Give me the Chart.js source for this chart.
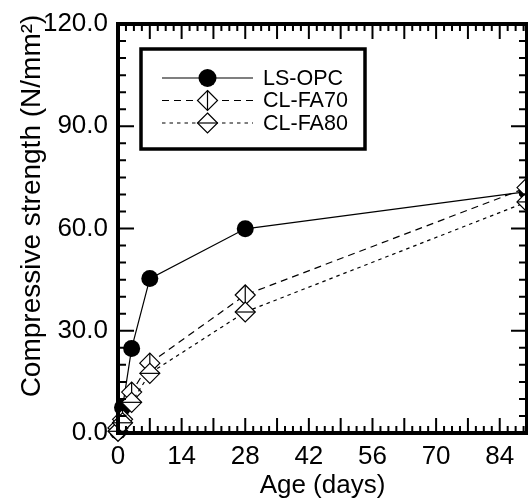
<!DOCTYPE html>
<html>
<head>
<meta charset="utf-8">
<script src="https://cdn.jsdelivr.net/npm/chart.js@4"></script>
<style>
  html, body { margin: 0; padding: 0; background: #fff; }
  #c { display: block; }
</style>
</head>
<body>
<canvas id="c" width="528" height="501"></canvas>
<script>
// ---- data ----
const days   = [0, 1, 3, 7, 28, 90];
const lsOpc  = [0.5, 7.5, 24.8, 45.3, 59.9, 70.8];
const clFa70 = [1.5, 4.0, 12.0, 20.5, 40.5, 72.0];
const clFa80 = [0.5, 3.0, 9.0, 17.5, 35.5, 67.8];
const seriesLabels = ['LS-OPC', 'CL-FA70', 'CL-FA80'];
const xTickLabels = [0, 14, 28, 42, 56, 70, 84];
const yTickLabels = [0, 30, 60, 90, 120];
const xTitle = 'Age (days)';
const yTitle = 'Compressive strength (N/mm\u00B2)';

const FONT = "'Liberation Sans', Arial, sans-serif";
const innerLine = ['none', 'v', 'h'];

const toPts = arr => arr.map((v, i) => ({ x: days[i], y: v }));

function drawInner(ctx, kind, x, y, r) {
  ctx.beginPath();
  if (kind === 'v') { ctx.moveTo(x, y - r); ctx.lineTo(x, y + r); }
  else if (kind === 'h') { ctx.moveTo(x - r, y); ctx.lineTo(x + r, y); }
  ctx.stroke();
}

const markPlugin = {
  id: 'marks',
  afterDatasetDraw(chart, args) {
    const i = args.index;
    const kind = innerLine[i];
    if (kind === 'none') return;
    const { ctx } = chart;
    ctx.save();
    ctx.strokeStyle = '#000';
    ctx.lineWidth = 1.2;
    args.meta.data.forEach(pt => drawInner(ctx, kind, pt.x, pt.y, 10));
    ctx.restore();
  }
};

const framePlugin = {
  id: 'frame',
  afterDraw(chart) {
    const { ctx, chartArea: a, scales: { x, y } } = chart;
    ctx.save();
    ctx.strokeStyle = '#000';
    ctx.lineWidth = 2;
    ctx.beginPath();
    for (let k = 0; k * 1.75 <= 90.01; k++) {
      const v = k * 1.75, px = x.getPixelForValue(v);
      const len = (k % 4 === 0) ? 15 : 7;
      ctx.moveTo(px, a.bottom); ctx.lineTo(px, a.bottom - len);
      ctx.moveTo(px, a.top); ctx.lineTo(px, a.top + len);
    }
    for (let v = 0; v <= 120; v += 5) {
      const py = y.getPixelForValue(v);
      const len = (v % 30 === 0) ? 16 : 8;
      ctx.moveTo(a.left, py); ctx.lineTo(a.left + len, py);
      ctx.moveTo(a.right, py); ctx.lineTo(a.right - len, py);
    }
    ctx.stroke();
    ctx.lineWidth = 4;
    ctx.strokeRect(a.left, a.top, a.right - a.left, a.bottom - a.top);
    // y title
    ctx.fillStyle = '#000';
    ctx.font = '28px ' + FONT;
    ctx.textAlign = 'center';
    ctx.textBaseline = 'middle';
    ctx.translate(32, 206);
    ctx.rotate(-Math.PI / 2);
    ctx.fillText(yTitle, 0, 0);
    ctx.restore();

    // legend
    ctx.save();
    ctx.lineWidth = 3.5;
    ctx.strokeStyle = '#000';
    ctx.strokeRect(141, 49, 224, 100);
    const rows = [78, 100.5, 123];
    chart.data.datasets.forEach((ds, i) => {
      const ry = rows[i];
      ctx.beginPath();
      ctx.lineWidth = ds.borderWidth;
      ctx.setLineDash(ds.borderDash || []);
      ctx.moveTo(162, ry); ctx.lineTo(253, ry);
      ctx.stroke();
      ctx.setLineDash([]);
      const cx = 207.5;
      if (ds.pointStyle === 'circle') {
        ctx.beginPath(); ctx.fillStyle = '#000';
        ctx.arc(cx, ry, 9, 0, Math.PI * 2); ctx.fill();
      } else {
        ctx.beginPath();
        ctx.moveTo(cx, ry - 10); ctx.lineTo(cx + 10, ry); ctx.lineTo(cx, ry + 10); ctx.lineTo(cx - 10, ry);
        ctx.closePath();
        ctx.fillStyle = '#fff'; ctx.fill();
        ctx.lineWidth = 1.2; ctx.stroke();
        drawInner(ctx, innerLine[i], cx, ry, 10);
      }
      ctx.fillStyle = '#000';
      ctx.font = '21.5px ' + FONT;
      ctx.textAlign = 'left'; ctx.textBaseline = 'middle';
      ctx.fillText(ds.label, 263, ry + 1);
    });
    ctx.restore();
  }
};

new Chart(document.getElementById('c'), {
  type: 'line',
  data: {
    datasets: [
      { label: seriesLabels[0], data: toPts(lsOpc), borderColor: '#000', borderWidth: 1.2,
        pointStyle: 'circle', pointRadius: 8.5, pointBackgroundColor: '#000', pointBorderColor: '#000',
        pointBorderWidth: 0, order: 2, clip: false, tension: 0 },
      { label: seriesLabels[1], data: toPts(clFa70), borderColor: '#000', borderWidth: 1.2,
        borderDash: [7, 5], pointStyle: 'rectRot', pointRadius: 10, pointBackgroundColor: '#fff',
        pointBorderColor: '#000', pointBorderWidth: 1.2, order: 1, clip: false, tension: 0 },
      { label: seriesLabels[2], data: toPts(clFa80), borderColor: '#000', borderWidth: 1.2,
        borderDash: [3.5, 4], pointStyle: 'rectRot', pointRadius: 10, pointBackgroundColor: '#fff',
        pointBorderColor: '#000', pointBorderWidth: 1.2, order: 0, clip: false, tension: 0 }
    ]
  },
  options: {
    responsive: false,
    animation: false,
    devicePixelRatio: 1,
    layout: { autoPadding: false, padding: { left: 0, top: 24, right: 1, bottom: 0 } },
    plugins: { legend: { display: false }, tooltip: { enabled: false } },
    scales: {
      x: {
        type: 'linear', min: 0, max: 90,
        grid: { display: false, drawTicks: false },
        border: { display: false },
        afterFit(s) { s.height = 68; s.paddingLeft = 0; s.paddingRight = 0; },
        afterBuildTicks(s) { s.ticks = xTickLabels.map(v => ({ value: v })); },
        ticks: { color: '#000', font: { family: FONT, size: 26 }, padding: 8, maxRotation: 0,
                 callback: v => String(v) },
        title: { display: true, text: xTitle, color: '#000', font: { family: FONT, size: 26 },
                 padding: { top: 0, bottom: 0 } }
      },
      y: {
        type: 'linear', min: 0, max: 120,
        grid: { display: false, drawTicks: false },
        border: { display: false },
        afterFit(s) { s.width = 118; s.paddingTop = 0; s.paddingBottom = 0; },
        afterBuildTicks(s) { s.ticks = yTickLabels.map(v => ({ value: v })); },
        ticks: { color: '#000', font: { family: FONT, size: 26 }, padding: 10,
                 callback: v => Number(v).toFixed(1) }
      }
    }
  },
  plugins: [markPlugin, framePlugin]
});
</script>
</body>
</html>
